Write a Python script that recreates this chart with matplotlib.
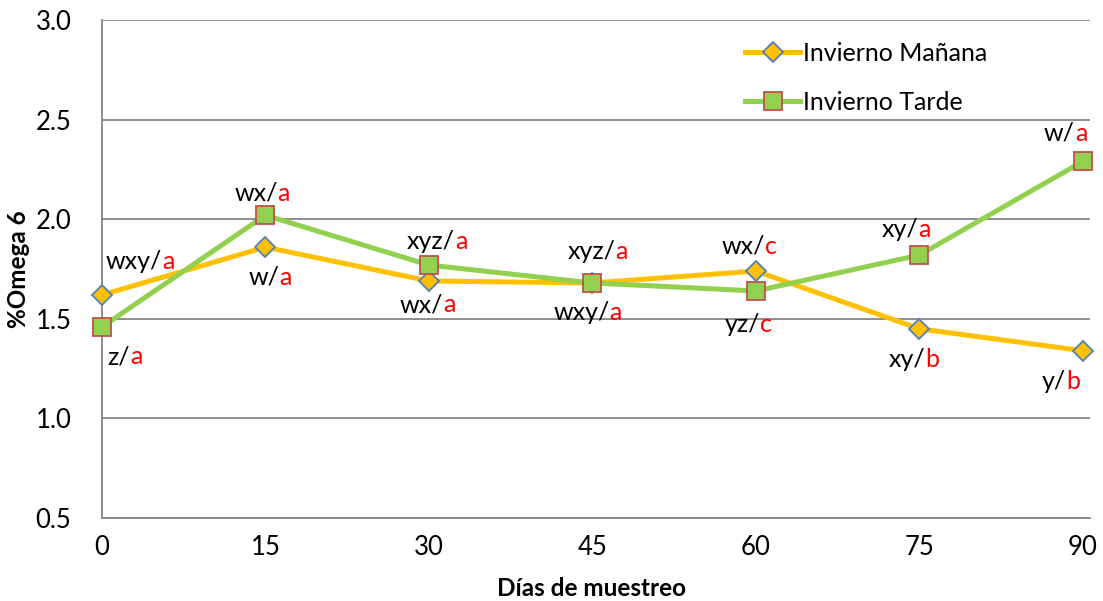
import matplotlib
matplotlib.use("Agg")
import matplotlib.pyplot as plt

plt.rcParams['font.family'] = ['Lato', 'DejaVu Sans']

dias = [0, 15, 30, 45, 60, 75, 90]
manana = [1.62, 1.86, 1.69, 1.68, 1.74, 1.45, 1.34]
tarde = [1.46, 2.02, 1.77, 1.68, 1.64, 1.82, 2.29]

# letras: (negro, rojo)
letras_manana = [("wxy/", "a"), ("w/", "a"), ("wx/", "a"), ("wxy/", "a"),
                 ("wx/", "c"), ("xy/", "b"), ("y/", "b")]
letras_tarde = [("z/", "a"), ("wx/", "a"), ("xyz/", "a"), ("xyz/", "a"),
                ("yz/", "c"), ("xy/", "a"), ("w/", "a")]

# desplazamiento (px) del punto donde termina la parte negra
offs_manana = [(60, 33), (14, -30), (14, -24), (17, -30), (9, 25), (6, -31), (-17, -31)]
offs_tarde = [(28, -30), (12, 22), (26, 24), (23, 31), (4, -34), (-1, 26), (-8, 28)]

fig = plt.figure(figsize=(11.03, 6.01), dpi=100)
ax = fig.add_axes([0.0925, 0.138, 0.8955, 0.8287])

ax.plot(dias, manana, color='#FFC000', lw=3.6, marker='D', ms=10.5,
        mfc='#FFC000', mec='#4F81BD', mew=1.3, label='Invierno Mañana',
        zorder=3, clip_on=False)
ax.plot(dias, tarde, color='#92D050', lw=3.6, marker='s', ms=13,
        mfc='#92D050', mec='#C0504D', mew=1.3, label='Invierno Tarde',
        zorder=4, clip_on=False)

def etiqueta(x, y, partes, off):
    t = ax.annotate(partes[0], (x, y), xytext=off, textcoords='offset pixels',
                    ha='right', va='center', fontsize=18, color='black', zorder=5)
    ax.annotate(partes[1], xy=(1, 0), xycoords=t, ha='left', va='bottom',
                fontsize=18, color='#FF0000', zorder=5)

for x, y, p, o in zip(dias, manana, letras_manana, offs_manana):
    etiqueta(x, y, p, o)
for x, y, p, o in zip(dias, tarde, letras_tarde, offs_tarde):
    etiqueta(x, y, p, o)

ax.set_xlim(0, 90.64)
ax.set_ylim(0.5, 3.0)
ax.set_xticks(dias)
ax.set_yticks([0.5, 1.0, 1.5, 2.0, 2.5, 3.0])
ax.set_yticklabels(['0.5', '1.0', '1.5', '2.0', '2.5', '3.0'])
ax.tick_params(length=0, labelsize=18.5, colors='black', pad=12)
ax.tick_params(axis='y', pad=22)

ax.grid(axis='y', color='#868686', lw=1.3)
ax.set_axisbelow(True)
for s in ['top', 'right']:
    ax.spines[s].set_visible(False)
for s in ['left', 'bottom']:
    ax.spines[s].set_color('#868686')
    ax.spines[s].set_linewidth(1.3)

ax.set_xlabel('Días de muestreo', fontsize=17.5, fontweight='bold', va='center')
ax.set_ylabel('%Omega 6', fontsize=17.5, fontweight='bold', va='center')
ax.xaxis.set_label_coords(0.4955, -0.1406)
ax.yaxis.set_label_coords(-0.085, 0.5)

ax.legend(loc='upper left', bbox_to_anchor=(0.651, 0.956), frameon=False,
          fontsize=18, handlelength=2.2, handletextpad=0.1, labelspacing=1.05,
          borderpad=0, borderaxespad=0)

fig.savefig('out.png', dpi=100, facecolor='white')
